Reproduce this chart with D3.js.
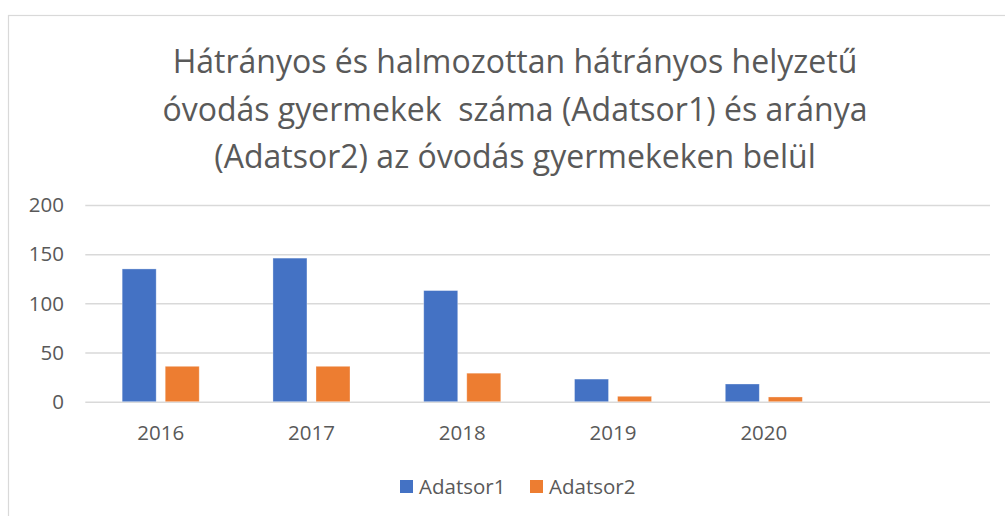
<!DOCTYPE html>
<html>
<head>
<meta charset="utf-8">
<script src="https://cdn.jsdelivr.net/npm/d3@7"></script>
<style>
  body { margin: 0; background: #fff; }
  text { font-family: "Open Sans", sans-serif; fill: #595959; }
</style>
</head>
<body>
<div id="viz"></div>
<script>
'use strict';

const width = 1005;
const height = 516;

// data
const years = ["2016", "2017", "2018", "2019", "2020", ""];
const seriesNames = ["Adatsor1", "Adatsor2"];
const adatsor1 = [135, 146, 113, 23, 18];
const adatsor2 = [36, 36, 29, 5.5, 4.8];
const yTicks = [0, 50, 100, 150, 200];
const titleLines = [
    "Hátrányos és halmozottan hátrányos helyzetű",
    "óvodás gyermekek  száma (Adatsor1) és aránya",
    "(Adatsor2) az óvodás gyermekeken belül"
];
const colors = ["#4472C4", "#ED7D31"];

const svg = d3.select("#viz")
    .append("svg")
    .attr("width", width)
    .attr("height", height);

// chart frame (runs off the right edge like the original)
svg.append("rect")
    .attr("x", 8.5)
    .attr("y", 15.5)
    .attr("width", 1100)
    .attr("height", 600)
    .attr("fill", "#fff")
    .attr("stroke", "#d9d9d9")
    .attr("stroke-width", 1.2);

// title
svg.append("g").selectAll("text")
    .data(titleLines)
    .enter()
    .append("text")
    .attr("x", 515)
    .attr("y", (d, i) => 73 + i * 47.5)
    .attr("text-anchor", "middle")
    .style("font-size", "32px")
    .style("white-space", "pre")
    .text(d => d);

const x = d3.scaleBand()
    .domain(years)
    .range([85.3, 990])
    .padding(0);

const x1 = d3.scaleBand()
    .domain(seriesNames)
    .range([x.bandwidth() * 0.2445, x.bandwidth() * 0.7555])
    .paddingInner(0.21);

const y = d3.scaleLinear()
    .domain([0, 200])
    .range([401.7, 205]);

// gridlines
const grid = svg.append("g")
    .attr("transform", "translate(85.3,0)")
    .call(d3.axisLeft(y).tickValues(yTicks).tickSize(-(990 - 85.3)).tickFormat(""));
grid.select(".domain").remove();
grid.selectAll("line")
    .attr("stroke", "#d9d9d9")
    .attr("stroke-width", 1.5);

// y labels
svg.append("g").selectAll("text")
    .data(yTicks)
    .enter()
    .append("text")
    .attr("x", 64)
    .attr("y", d => y(d))
    .attr("dy", "0.35em")
    .attr("text-anchor", "end")
    .style("font-size", "20.5px")
    .text(d => d);

// x labels
svg.append("g").selectAll("text")
    .data(years)
    .enter()
    .append("text")
    .attr("x", d => x(d) + x.bandwidth() / 2)
    .attr("y", 433)
    .attr("dy", "0.35em")
    .attr("text-anchor", "middle")
    .style("font-size", "20.5px")
    .text(d => d);

// bars
const rows = adatsor1.map((v, i) => ({
    year: years[i],
    vals: [
        { name: seriesNames[0], value: v },
        { name: seriesNames[1], value: adatsor2[i] }
    ]
}));

const groups = svg.append("g").selectAll("g")
    .data(rows)
    .enter()
    .append("g")
    .attr("transform", d => "translate(" + x(d.year) + ",0)");

groups.selectAll("rect")
    .data(d => d.vals)
    .enter()
    .append("rect")
    .attr("x", d => x1(d.name))
    .attr("width", x1.bandwidth())
    .attr("y", d => y(d.value))
    .attr("height", d => y(0) - y(d.value))
    .attr("fill", (d, i) => colors[i])
    .attr("stroke", "#fff")
    .attr("stroke-opacity", 0.4)
    .attr("stroke-width", 0.8);

// legend
const legendX = [400, 530];
const legend = svg.append("g").selectAll("g")
    .data(seriesNames)
    .enter()
    .append("g")
    .attr("transform", (d, i) => "translate(" + legendX[i] + ",480)");

legend.append("rect")
    .attr("width", 13)
    .attr("height", 13)
    .attr("fill", (d, i) => colors[i]);

legend.append("text")
    .attr("x", 19)
    .attr("y", 6.5)
    .attr("dy", "0.35em")
    .style("font-size", "20.5px")
    .text(d => d);
</script>
</body>
</html>
